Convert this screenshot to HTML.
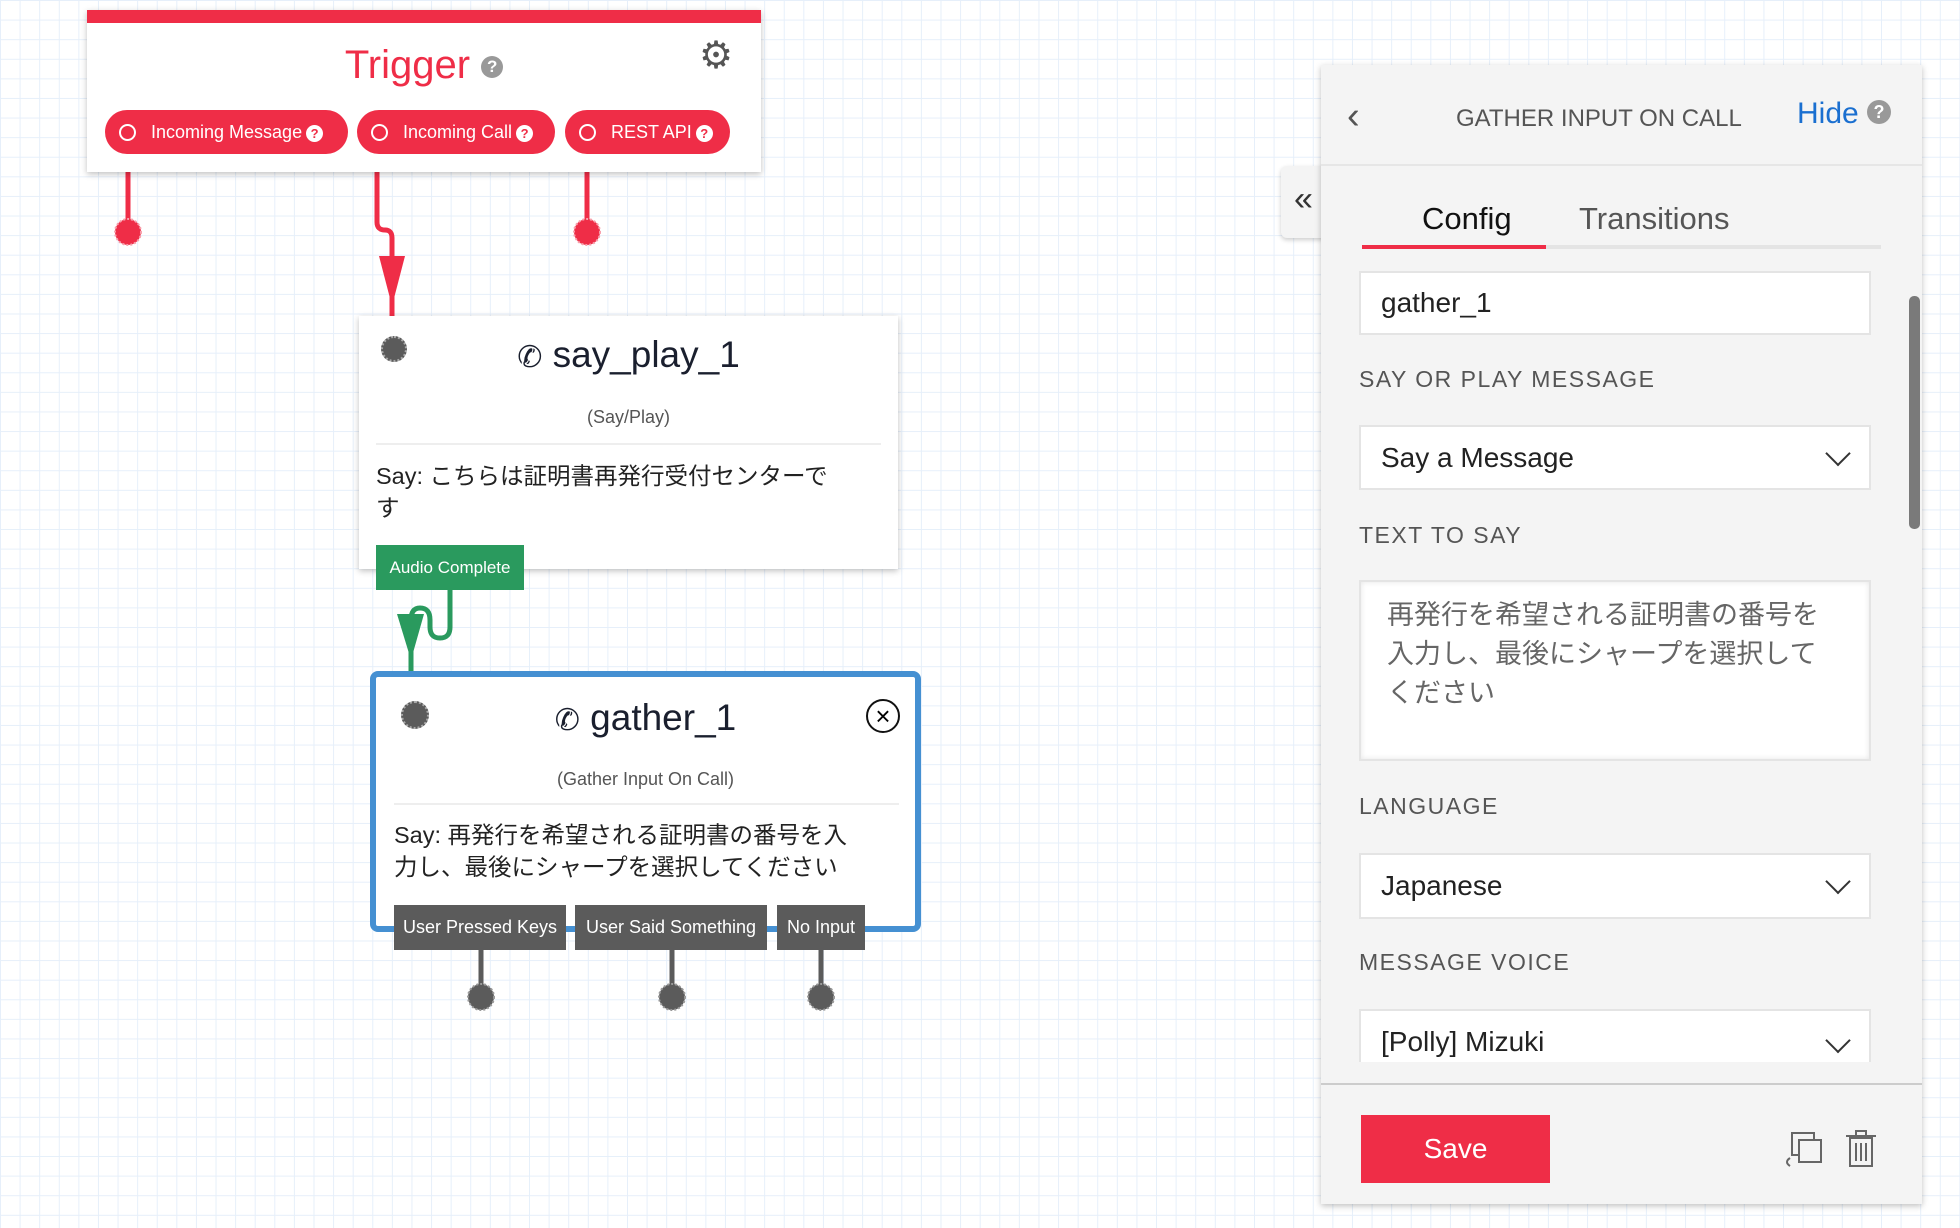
<!DOCTYPE html>
<html><head><meta charset="utf-8">
<style>
*{box-sizing:border-box;margin:0;padding:0}
body{width:1960px;height:1228px;overflow:hidden;position:relative;font-family:"Liberation Sans","Noto Sans CJK JP",sans-serif;
background-color:#fff;
background-image:linear-gradient(#e6effa 1px,transparent 1px),linear-gradient(90deg,#e6effa 1px,transparent 1px);
background-size:19.6px 19.6px;}
.abs{position:absolute}
.card{position:absolute;background:#fff;box-shadow:0 2px 6px rgba(0,0,0,.25)}
.pill{position:absolute;top:110px;height:44px;border-radius:22px;background:#ef2d47;color:#fff;font-size:18px;line-height:44px;padding-left:46px}
.pill:before{content:"";position:absolute;left:14px;top:14px;width:13px;height:13px;border:2px solid #fff;border-radius:50%}
.q{display:inline-block;width:17px;height:17px;border-radius:50%;background:#fff;color:#ef2d47;font-size:13px;line-height:17px;text-align:center;font-weight:bold;vertical-align:middle;margin-left:4px}
.tag{position:absolute;height:45px;background:#5b5b5b;color:#fff;font-size:18px;line-height:45px;text-align:center}
.lbl{position:absolute;left:1359px;font-size:23px;color:#555;letter-spacing:1.5px}
.field{position:absolute;left:1359px;width:512px;background:#fff;border:2px solid #e4e4e4;font-size:28px;color:#222;padding-left:20px}
.chev{position:absolute;right:22px;top:50%;width:18px;height:18px;border-right:2px solid #333;border-bottom:2px solid #333;transform:translateY(-75%) rotate(45deg)}
</style></head><body>

<svg class="abs" style="left:0;top:0" width="1960" height="1228">
 <line x1="128" y1="150" x2="128" y2="232" stroke="#ef2d47" stroke-width="5"/>
 <circle cx="128" cy="232" r="13" fill="#ef2d47" stroke="#f7a0ac" stroke-dasharray="2 2" stroke-width="2"/>
 <line x1="587" y1="150" x2="587" y2="232" stroke="#ef2d47" stroke-width="5"/>
 <circle cx="587" cy="232" r="13" fill="#ef2d47" stroke="#f7a0ac" stroke-dasharray="2 2" stroke-width="2"/>
 <path d="M377 150 V222 Q377 230 385 230 Q392 230 392 238 V316" stroke="#ef2d47" stroke-width="5" fill="none"/>
 <polygon points="379,256 405,256 392,306" fill="#ef2d47"/>
 <path d="M450 590 V627 Q450 638 440 638 Q430 638 430 627 V620 Q430 608 420 608 Q411 608 411 620 V672" stroke="#2a9a5e" stroke-width="5" fill="none"/>
 <polygon points="397,614 424,614 411,660" fill="#2a9a5e"/>
 <g stroke="#5b5b5b" stroke-width="5"><line x1="481" y1="948" x2="481" y2="997"/><line x1="672" y1="948" x2="672" y2="997"/><line x1="821" y1="948" x2="821" y2="997"/></g>
 <g fill="#5b5b5b" stroke="#999" stroke-dasharray="2 2" stroke-width="2"><circle cx="481" cy="997" r="13"/><circle cx="672" cy="997" r="13"/><circle cx="821" cy="997" r="13"/></g>
</svg>

<div class="card" style="left:87px;top:10px;width:674px;height:162px;border-top:13px solid #ef2d47">
 <div class="abs" style="left:0;width:674px;top:20px;text-align:center;font-size:40px;color:#ef2d47">Trigger <span style="display:inline-block;width:22px;height:22px;border-radius:50%;background:#999;color:#fff;font-size:17px;line-height:22px;font-weight:bold;vertical-align:middle">?</span></div>
 <div class="abs" style="left:612px;top:10px;font-size:38px;color:#555">⚙</div>
</div>
<div class="pill" style="left:105px;width:243px">Incoming Message<span class="q">?</span></div>
<div class="pill" style="left:357px;width:198px">Incoming Call<span class="q">?</span></div>
<div class="pill" style="left:565px;width:165px">REST API<span class="q">?</span></div>

<div class="card" style="left:359px;top:316px;width:539px;height:253px">
 <div class="abs" style="left:22px;top:20px;width:26px;height:26px;border-radius:50%;background:#5b5b5b;border:2px dotted #aaa"></div>
 <div class="abs" style="left:0;width:539px;top:18px;text-align:center;font-size:37px;color:#1a1f2e"><span style="font-size:30px">✆</span> say_play_1</div>
 <div class="abs" style="left:0;width:539px;top:91px;text-align:center;font-size:18px;color:#555">(Say/Play)</div>
 <div class="abs" style="left:17px;width:505px;top:127px;border-top:2px solid #eee"></div>
 <div class="abs" style="left:17px;width:462px;top:144px;font-size:23.5px;line-height:32px;color:#222">Say: こちらは証明書再発行受付センターです</div>
</div>
<div class="abs" style="left:376px;top:545px;width:148px;height:45px;background:#2a9a5e;color:#fff;font-size:17px;line-height:45px;text-align:center">Audio Complete</div>

<div class="abs" style="left:370px;top:671px;width:551px;height:261px;background:#fff;border:6px solid #4590d2;border-radius:8px">
 <div class="abs" style="left:25px;top:24px;width:28px;height:28px;border-radius:50%;background:#5b5b5b;border:2px dotted #aaa"></div>
 <div class="abs" style="left:0;width:539px;top:20px;text-align:center;font-size:37px;color:#1a1f2e"><span style="font-size:30px">✆</span> gather_1</div>
 <div class="abs" style="left:490px;top:22px;width:34px;height:34px;border-radius:50%;border:2px solid #111;text-align:center;line-height:30px;font-size:26px">×</div>
 <div class="abs" style="left:0;width:539px;top:92px;text-align:center;font-size:18px;color:#555">(Gather Input On Call)</div>
 <div class="abs" style="left:18px;width:505px;top:126px;border-top:2px solid #eee"></div>
 <div class="abs" style="left:18px;width:498px;top:142px;font-size:23.5px;line-height:32px;color:#222">Say: 再発行を希望される証明書の番号を入<br>力し、最後にシャープを選択してください</div>
</div>
<div class="tag" style="left:394px;top:905px;width:172px">User Pressed Keys</div>
<div class="tag" style="left:575px;top:905px;width:192px">User Said Something</div>
<div class="tag" style="left:777px;top:905px;width:88px">No Input</div>

<div class="abs" style="left:1281px;top:166px;width:45px;height:72px;background:#f4f4f4;border-radius:6px 0 0 6px;box-shadow:0 2px 5px rgba(0,0,0,.2);font-size:34px;color:#333;text-align:center;line-height:66px">«</div>

<div class="abs" style="left:1321px;top:65px;width:601px;height:1139px;background:#f4f4f4;box-shadow:0 2px 6px rgba(0,0,0,.25)">
 <div class="abs" style="left:26px;top:30px;font-size:38px;color:#555">‹</div>
 <div class="abs" style="left:135px;top:40px;font-size:24px;color:#555">GATHER INPUT ON CALL</div>
 <div class="abs" style="left:476px;top:32px;font-size:30px;color:#1a6fd0">Hide</div>
 <div class="abs" style="left:546px;top:35px;width:24px;height:24px;border-radius:50%;background:#999;color:#fff;font-size:18px;line-height:24px;text-align:center;font-weight:bold">?</div>
 <div class="abs" style="left:0;top:99px;width:601px;border-top:2px solid #e6e6e6"></div>
 <div class="abs" style="left:101px;top:136px;font-size:31px;color:#111">Config</div>
 <div class="abs" style="left:258px;top:136px;font-size:31px;color:#555">Transitions</div>
 <div class="abs" style="left:41px;top:180px;width:519px;height:4px;background:#e4e4e4"></div>
 <div class="abs" style="left:41px;top:180px;width:184px;height:4px;background:#ef2d47"></div>
 <div class="abs" style="left:588px;top:231px;width:11px;height:233px;border-radius:5px;background:#7a7a7a"></div>
 <div class="abs" style="left:0;top:1018px;width:601px;border-top:2px solid #ccc"></div>
</div>
<div class="field" style="top:271px;height:64px;line-height:60px">gather_1</div>
<div class="lbl" style="top:366px">SAY OR PLAY MESSAGE</div>
<div class="field" style="top:425px;height:65px;line-height:61px">Say a Message<div class="chev"></div></div>
<div class="lbl" style="top:522px">TEXT TO SAY</div>
<div class="field" style="top:580px;height:181px;padding:14px 50px 14px 26px;font-size:27px;line-height:39px;color:#666;box-shadow:inset 0 0 6px rgba(0,0,0,.1)">再発行を希望される証明書の番号を入力し、最後にシャープを選択してください</div>
<div class="lbl" style="top:793px">LANGUAGE</div>
<div class="field" style="top:853px;height:66px;line-height:62px">Japanese<div class="chev"></div></div>
<div class="lbl" style="top:949px">MESSAGE VOICE</div>
<div class="field" style="top:1009px;height:53px;line-height:62px;border-bottom:none;overflow:hidden">[Polly] Mizuki<div class="chev" style="top:34px"></div></div>
<div class="abs" style="left:1361px;top:1115px;width:189px;height:68px;background:#ef2d47;color:#fff;font-size:28px;line-height:68px;text-align:center">Save</div>
<svg class="abs" style="left:1780px;top:1128px" width="110" height="42">
 <rect x="12" y="5" width="22" height="22" fill="none" stroke="#666" stroke-width="2"/>
 <rect x="19" y="12" width="22" height="22" fill="#f4f4f4" stroke="#666" stroke-width="2"/>
 <path d="M10 30 q-6 4 0 8" fill="none" stroke="#666" stroke-width="2"/>
 <rect x="70" y="10" width="22" height="28" fill="none" stroke="#666" stroke-width="2"/>
 <line x1="66" y1="8" x2="96" y2="8" stroke="#666" stroke-width="2"/>
 <rect x="76" y="3" width="10" height="5" fill="none" stroke="#666" stroke-width="2"/>
 <g stroke="#666" stroke-width="2"><line x1="76" y1="15" x2="76" y2="33"/><line x1="81" y1="15" x2="81" y2="33"/><line x1="86" y1="15" x2="86" y2="33"/></g>
</svg>
</body></html>
